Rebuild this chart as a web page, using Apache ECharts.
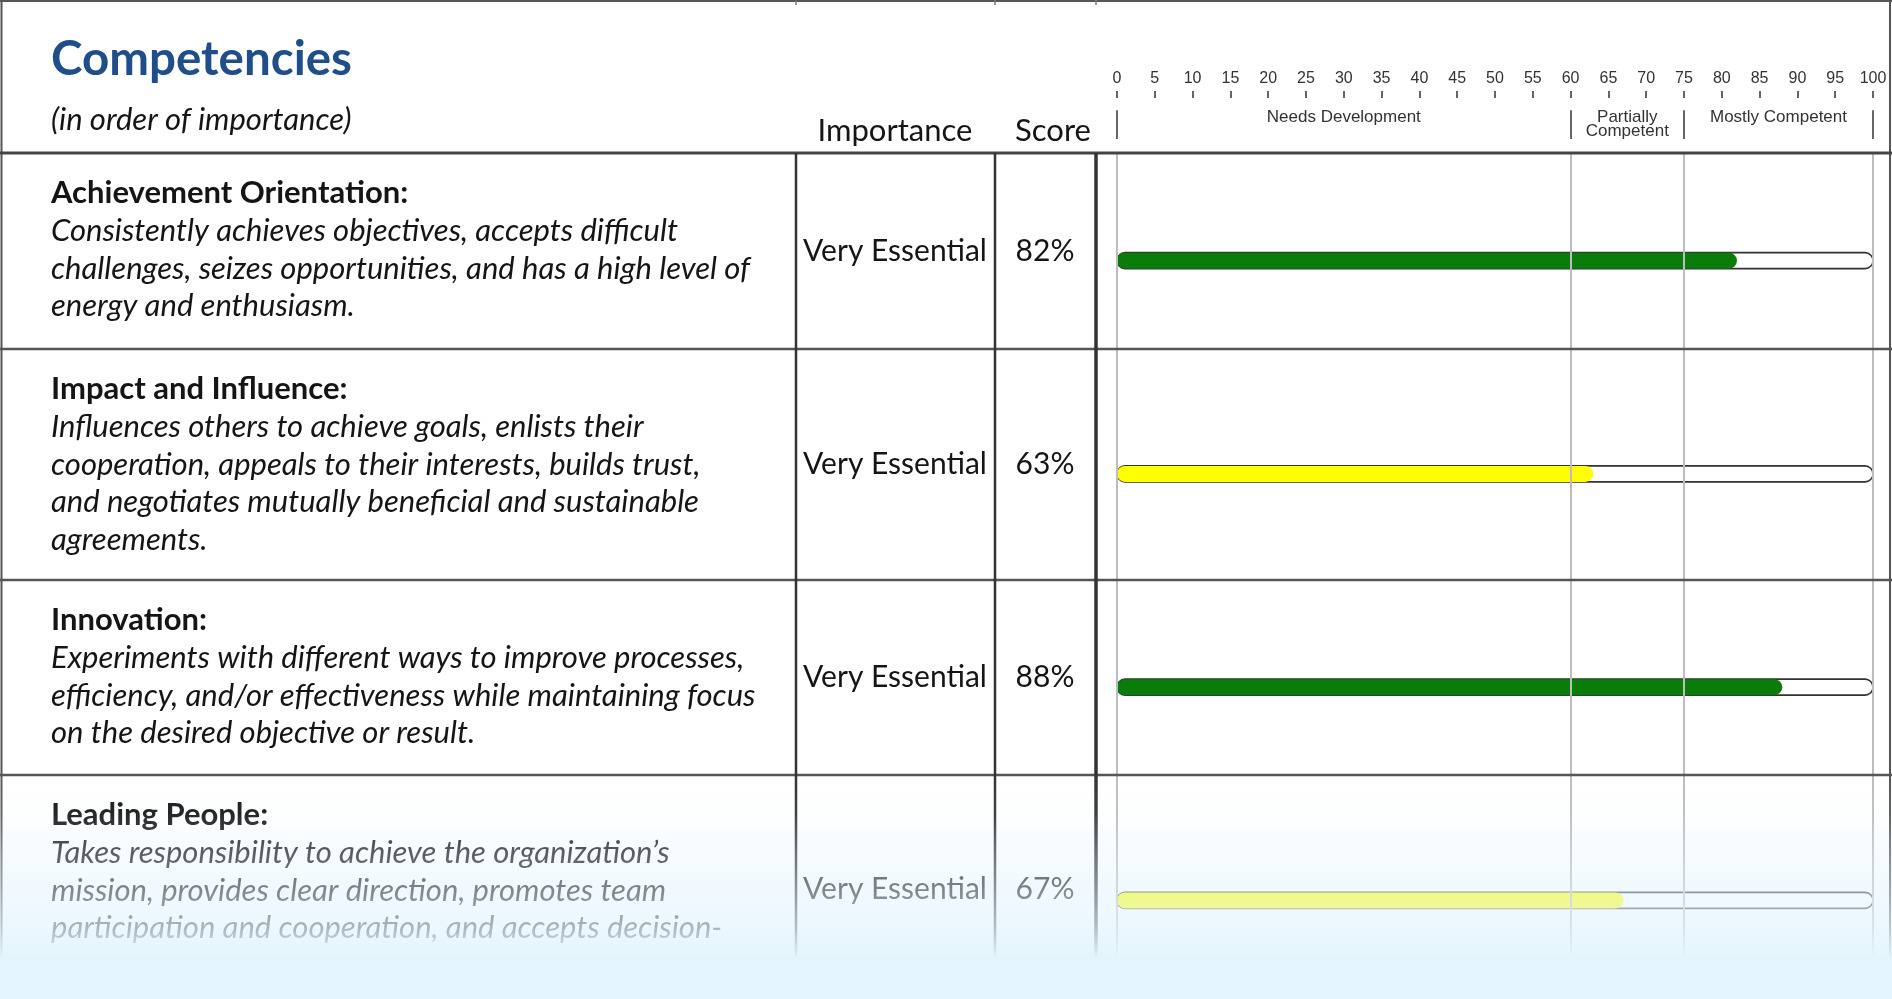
<!DOCTYPE html>
<html>
<head>
<meta charset="utf-8">
<script src="https://cdn.jsdelivr.net/npm/echarts@6/dist/echarts.min.js"></script>
<style>
html,body{margin:0;padding:0;background:#fff;}
#chart{width:1892px;height:999px;}
</style>
</head>
<body>
<div id="chart"></div>
<script>
// ---------- data ----------
const titleText = 'Competencies';
const subtitleText = '(in order of importance)';
const columnHeaders = ['Importance', 'Score'];
const categories = ['Achievement Orientation:', 'Impact and Influence:', 'Innovation:', 'Leading People:'];
const descriptions = [
  ['Consistently achieves objectives, accepts difficult',
   'challenges, seizes opportunities, and has a high level of',
   'energy and enthusiasm.'],
  ['Influences others to achieve goals, enlists their',
   'cooperation, appeals to their interests, builds trust,',
   'and negotiates mutually beneficial and sustainable',
   'agreements.'],
  ['Experiments with different ways to improve processes,',
   'efficiency, and/or effectiveness while maintaining focus',
   'on the desired objective or result.'],
  ['Takes responsibility to achieve the organization\u2019s',
   'mission, provides clear direction, promotes team',
   'participation and cooperation, and accepts decision-']
];
const importance = ['Very Essential', 'Very Essential', 'Very Essential', 'Very Essential'];
const scores = [82, 63, 88, 67];
const axisMin = 0, axisMax = 100, tickInterval = 5;
const bandBreaks = [0, 60, 75, 100];
const bandNames = ['Needs Development', 'Partially\nCompetent', 'Mostly Competent'];
const bandColors = ['#c00000', '#ffff00', '#0a7c0a'];

// ---------- layout ----------
const W = 1892, H = 999;
const rowTops = [153, 349, 580, 775, 1003];
const colX = [796, 995, 1096];
const plotLeft = 1117, plotWidth = 756;
const bodyFont = 'Lato, "Noto Sans", sans-serif';
const axisFont = '"Liberation Sans", Arial, sans-serif';

function bandColor(v) {
  for (let i = bandBreaks.length - 2; i >= 0; i--) {
    if (v >= bandBreaks[i]) return bandColors[i];
  }
  return bandColors[0];
}

const graphics = [];
function txt(x, y, text, o) {
  graphics.push({
    type: 'text', x: x, y: y, z: 10,
    style: Object.assign({
      text: text, fill: '#151515', fontFamily: bodyFont, fontSize: 30,
      align: 'left', verticalAlign: 'middle'
    }, o || {})
  });
}
function line(x1, y1, x2, y2, color, w) {
  graphics.push({
    type: 'line', z: 12, shape: {x1: x1, y1: y1, x2: x2, y2: y2},
    style: {stroke: color, lineWidth: w}
  });
}

// header texts
txt(51, 60, titleText, {fill: '#1f4e8a', fontSize: 47.5, fontWeight: 'bold'});
txt(51, 120, subtitleText, {fontSize: 31, fontStyle: 'italic'});
txt(895, 131, columnHeaders[0], {align: 'center', fontSize: 31});
txt(1053, 131, columnHeaders[1], {align: 'center', fontSize: 31});

// rows
categories.forEach(function (cat, i) {
  const top = rowTops[i];
  const mid = (rowTops[i] + rowTops[i + 1]) / 2;
  txt(51, top + 40, cat, {fontWeight: 'bold', fontSize: 31});
  descriptions[i].forEach(function (ln, j) {
    txt(51, top + 78 + j * 37.5, ln, {fontStyle: 'italic', fontSize: 31});
  });
  txt(895, mid, importance[i], {align: 'center'});
  txt(1045, mid, scores[i] + '%', {align: 'center'});
});

// table lines
line(0, 1, W, 1, '#555', 2);
line(1.5, 0, 1.5, H, '#555', 2);
line(W - 2, 0, W - 2, H, '#555', 2);
line(0, rowTops[0], W, rowTops[0], '#444', 3);
for (let i = 1; i < categories.length; i++) line(0, rowTops[i], W, rowTops[i], '#555', 2.5);
colX.forEach(function (x, i) {
  line(x, rowTops[0], x, H, '#333', i === 2 ? 3.5 : 2.5);
  line(x, 0, x, 5, '#777', 1.5);
});

// fade overlay
graphics.push({
  type: 'rect', z: 100, shape: {x: 0, y: 770, width: W, height: H - 770},
  style: {
    fill: {
      type: 'linear', x: 0, y: 0, x2: 0, y2: 1,
      colorStops: [
        {offset: 0, color: 'rgba(228,244,253,0)'},
        {offset: 0.19, color: 'rgba(228,244,253,0.08)'},
        {offset: 0.36, color: 'rgba(228,244,253,0.32)'},
        {offset: 0.52, color: 'rgba(228,244,253,0.5)'},
        {offset: 0.69, color: 'rgba(228,244,253,0.72)'},
        {offset: 0.79, color: 'rgba(228,244,253,0.92)'},
        {offset: 0.82, color: 'rgba(228,244,253,1)'},
        {offset: 1, color: 'rgba(228,244,253,1)'}
      ]
    }
  }
});

const option = {
  animation: false,
  backgroundColor: '#fff',
  grid: [
    {left: plotLeft, width: plotWidth, top: 154, height: 853, outerBoundsMode: 'none', containLabel: false},
    {left: plotLeft, width: plotWidth, top: 98, height: 41, outerBoundsMode: 'none', containLabel: false}
  ],
  xAxis: [
    {gridIndex: 0, type: 'value', min: axisMin, max: axisMax, interval: tickInterval,
     show: false},
    {gridIndex: 1, type: 'value', min: axisMin, max: axisMax, interval: tickInterval,
     position: 'top',
     axisLine: {show: false, onZero: false},
     axisTick: {show: true, inside: false, length: 7, lineStyle: {color: '#333', width: 1.5}},
     axisLabel: {show: true, margin: 11, fontFamily: axisFont, fontSize: 16, color: '#333'},
     splitLine: {show: false}}
  ],
  yAxis: [
    {gridIndex: 0, type: 'category', inverse: true, data: categories, show: false},
    {gridIndex: 1, type: 'value', min: 0, max: 1, show: false}
  ],
  series: [
    {
      type: 'line', xAxisIndex: 0, yAxisIndex: 0, data: [], z: 1, silent: true,
      markLine: {
        silent: true, symbol: 'none', animation: false,
        label: {show: false},
        lineStyle: {color: '#bdbdbd', width: 2, type: 'solid'},
        data: bandBreaks.map(function (v) { return {xAxis: v}; })
      }
    },
    {
      type: 'bar', xAxisIndex: 0, yAxisIndex: 0, z: 3,
      barWidth: 16,
      showBackground: true,
      backgroundStyle: {color: '#fff', borderColor: '#333', borderWidth: 1.6, borderRadius: 8},
      itemStyle: {borderRadius: 8},
      data: scores.map(function (v) { return {value: v, itemStyle: {color: bandColor(v)}}; })
    },
    {
      type: 'line', xAxisIndex: 1, yAxisIndex: 1, data: [], silent: true,
      markLine: {
        silent: true, symbol: 'none', animation: false,
        label: {show: false},
        lineStyle: {color: '#333', width: 1.5, type: 'solid'},
        data: bandBreaks.map(function (v) { return [{coord: [v, 0]}, {coord: [v, 0.7]}]; })
      },
      markArea: {
        silent: true,
        itemStyle: {color: 'rgba(0,0,0,0)'},
        label: {
          show: true, position: ['50%', 0], align: 'center', verticalAlign: 'top',
          fontFamily: axisFont, fontSize: 17, lineHeight: 14, color: '#333'
        },
        data: bandNames.map(function (n, i) {
          return [{name: n, coord: [bandBreaks[i], 0]}, {coord: [bandBreaks[i + 1], 0.7]}];
        })
      }
    }
  ],
  graphic: {elements: graphics}
};

const chart = echarts.init(document.getElementById('chart'), null, {renderer: 'canvas', width: W, height: H});
chart.setOption(option);
</script>
</body>
</html>
